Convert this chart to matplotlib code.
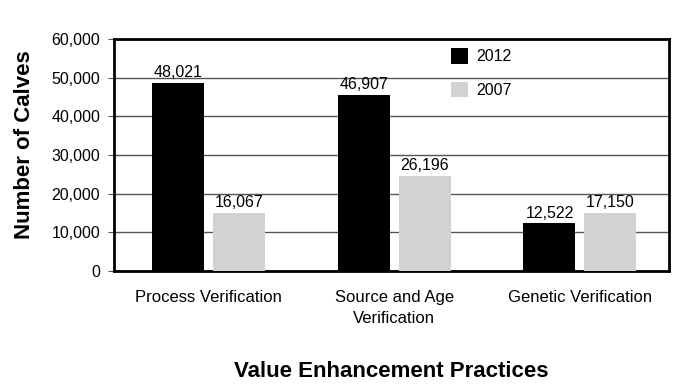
import numpy as np
import matplotlib.pyplot as plt

plt.rcParams['font.family'] = ['Liberation Sans', 'DejaVu Sans']

categorie = ["Process Verification", "Source and Age\nVerification", "Genetic Verification"]
anni = ["2012", "2007"]
valori_2012 = [48600, 45550, 12300]
valori_2007 = [15050, 24650, 14950]
# etichette stampate sopra le barre
etichette_2012 = ["48,021", "46,907", "12,522"]
etichette_2007 = ["16,067", "26,196", "17,150"]

nero = "#000000"
grigio = "#D1D2D4"

fig, ax = plt.subplots(figsize=(7, 3.86), dpi=100)
fig.subplots_adjust(left=114/700, right=669/700, top=1-39/386, bottom=1-271/386)

x = np.arange(len(categorie))
w = 0.28
off = 0.164
b1 = ax.bar(x - off, valori_2012, w, color=nero, label=anni[0], zorder=3)
b2 = ax.bar(x + off, valori_2007, w, color=grigio, label=anni[1], zorder=3)

for rect, t in zip(b1, etichette_2012):
    ax.annotate(t, (rect.get_x() + rect.get_width()/2, rect.get_height()),
                xytext=(0, 2), textcoords="offset points", ha="center", va="bottom", fontsize=11.5)
for rect, t in zip(b2, etichette_2007):
    ax.annotate(t, (rect.get_x() + rect.get_width()/2, rect.get_height()),
                xytext=(0, 2), textcoords="offset points", ha="center", va="bottom", fontsize=11.5)

ax.set_ylim(0, 60000)
ax.set_xlim(-0.51, 2.48)
ax.set_yticks(np.arange(0, 60001, 10000))
ax.set_yticklabels([f"{v:,}" for v in range(0, 60001, 10000)], fontsize=11.5)
ax.set_xticks(x)
ax.set_xticklabels(categorie, fontsize=12, linespacing=1.45)
ax.tick_params(axis="x", length=0, pad=14)
ax.tick_params(axis="y", length=4, color="#555555", pad=6)
ax.yaxis.grid(True, color="#555555", linewidth=1, zorder=0)
ax.set_axisbelow(True)
for s in ax.spines.values():
    s.set_linewidth(2)
    s.set_color("black")

ax.set_ylabel("Number of Calves", fontsize=16, fontweight="bold")
ax.yaxis.set_label_coords(-0.143, 0.543)
ax.set_xlabel("Value Enhancement Practices", fontsize=16, fontweight="bold", labelpad=25)

ax.legend(loc="upper left", bbox_to_anchor=(0.607, 0.96), frameon=False,
          handlelength=1.1, handleheight=1.1, handletextpad=0.5, labelspacing=1.1,
          borderpad=0, borderaxespad=0, fontsize=11.5)

plt.savefig("out.png", dpi=100)
